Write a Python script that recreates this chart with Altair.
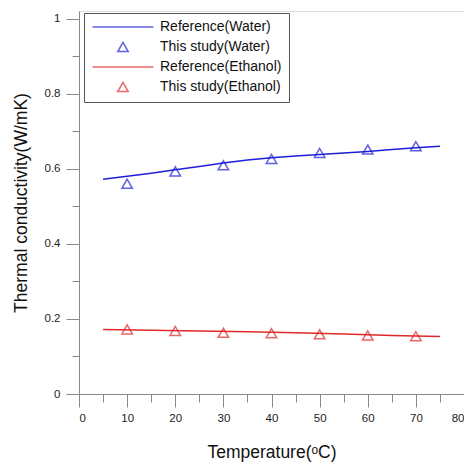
import altair as alt
import pandas as pd

# ---- data ----
series_names = ["Reference(Water)", "This study(Water)", "Reference(Ethanol)", "This study(Ethanol)"]

ref_water_T = [5, 10, 15, 20, 25, 30, 35, 40, 45, 50, 55, 60, 65, 70, 75]
ref_water_k = [0.572, 0.580, 0.588, 0.597, 0.606, 0.615, 0.623, 0.629, 0.634, 0.638, 0.642, 0.646, 0.651, 0.656, 0.660]

ref_eth_T = [5, 15, 25, 35, 45, 55, 65, 75]
ref_eth_k = [0.172, 0.170, 0.168, 0.166, 0.163, 0.160, 0.156, 0.153]

study_T = [10, 20, 30, 40, 50, 60, 70]
study_water_k = [0.560, 0.593, 0.609, 0.626, 0.642, 0.651, 0.660]
study_eth_k = [0.172, 0.168, 0.163, 0.162, 0.159, 0.156, 0.154]

x_major = [0, 10, 20, 30, 40, 50, 60, 70, 80]
x_minor = [5, 15, 25, 35, 45, 55, 65, 75]
y_major = [0, 0.2, 0.4, 0.6, 0.8, 1.0]
y_minor = [0.1, 0.3, 0.5, 0.7, 0.9]

BLUE = "#1e1ed8"
RED = "#e02828"
LINE_SHAPE = "M-5.8,0L5.8,0"
FONT = "Liberation Sans"

lines_df = pd.concat([
    pd.DataFrame({"T": ref_water_T, "k": ref_water_k, "series": series_names[0]}),
    pd.DataFrame({"T": ref_eth_T, "k": ref_eth_k, "series": series_names[2]}),
])
points_df = pd.concat([
    pd.DataFrame({"T": study_T, "k": study_water_k, "series": series_names[1]}),
    pd.DataFrame({"T": study_T, "k": study_eth_k, "series": series_names[3]}),
])

color_scale = alt.Scale(domain=series_names, range=[BLUE, BLUE, RED, RED])
shape_scale = alt.Scale(domain=series_names, range=[LINE_SHAPE, "triangle-up", LINE_SHAPE, "triangle-up"])

legend = alt.Legend(
    title=None, orient="none", legendX=5, legendY=2,
    padding=7, strokeColor="#555", fillColor="white",
    symbolOffset=25, labelOffset=30, symbolSize=110, symbolStrokeWidth=1.5,
    labelFont=FONT, labelFontSize=14, labelColor="#111", rowPadding=5,
    labelLimit=300,
)

x_scale = alt.Scale(domain=[0, 80], nice=False, zero=False)
y_scale = alt.Scale(domain=[0, 1.02], nice=False, zero=False)

title_style = dict(titleFont=FONT, titleFontSize=17.5, titleFontWeight="normal", titleColor="#111")
label_style = dict(labelFont=FONT, labelFontSize=11.5, labelColor="#222")

lines = alt.Chart(lines_df).mark_line(strokeWidth=1.5).encode(
    x=alt.X("T:Q", scale=x_scale,
            axis=alt.Axis(orient="bottom", values=x_major, tickSize=13, labelPadding=5,
                          title="Temperature(ᵒC)", titlePadding=20, grid=False,
                          **title_style, **label_style)),
    y=alt.Y("k:Q", scale=y_scale,
            axis=alt.Axis(orient="left", values=y_major, tickSize=13, labelPadding=6, format="~g",
                          title="Thermal conductivity(W/mK)", titlePadding=14, grid=False,
                          **title_style, **label_style)),
    color=alt.Color("series:N", scale=color_scale, legend=legend),
)

points = alt.Chart(points_df).mark_point(filled=False, size=110, strokeWidth=1.5).encode(
    x=alt.X("T:Q", scale=x_scale,
            axis=alt.Axis(orient="bottom", values=x_minor, tickSize=8, labels=False,
                          domain=False, title=None, grid=False)),
    y=alt.Y("k:Q", scale=y_scale,
            axis=alt.Axis(orient="left", values=y_minor, tickSize=7, labels=False,
                          domain=False, title=None, grid=False)),
    color=alt.Color("series:N", scale=color_scale, legend=legend),
    shape=alt.Shape("series:N", scale=shape_scale, legend=legend),
)

chart = (
    alt.layer(lines, points)
    .resolve_axis(x="independent", y="independent")
    .properties(
        width=385, height=383,
        autosize=alt.AutoSizeParams(type="none"),
        padding={"left": 71, "top": 3, "right": 0, "bottom": 70},
    )
    .configure_view(stroke="#111", strokeWidth=1.5)
    .configure_axis(
        domainColor="#222", domainWidth=1.5, tickColor="#222", tickWidth=1.5,
    )
    .configure(background="white")
)

chart.save("out.html", embed_options={"renderer": "svg", "actions": False})
